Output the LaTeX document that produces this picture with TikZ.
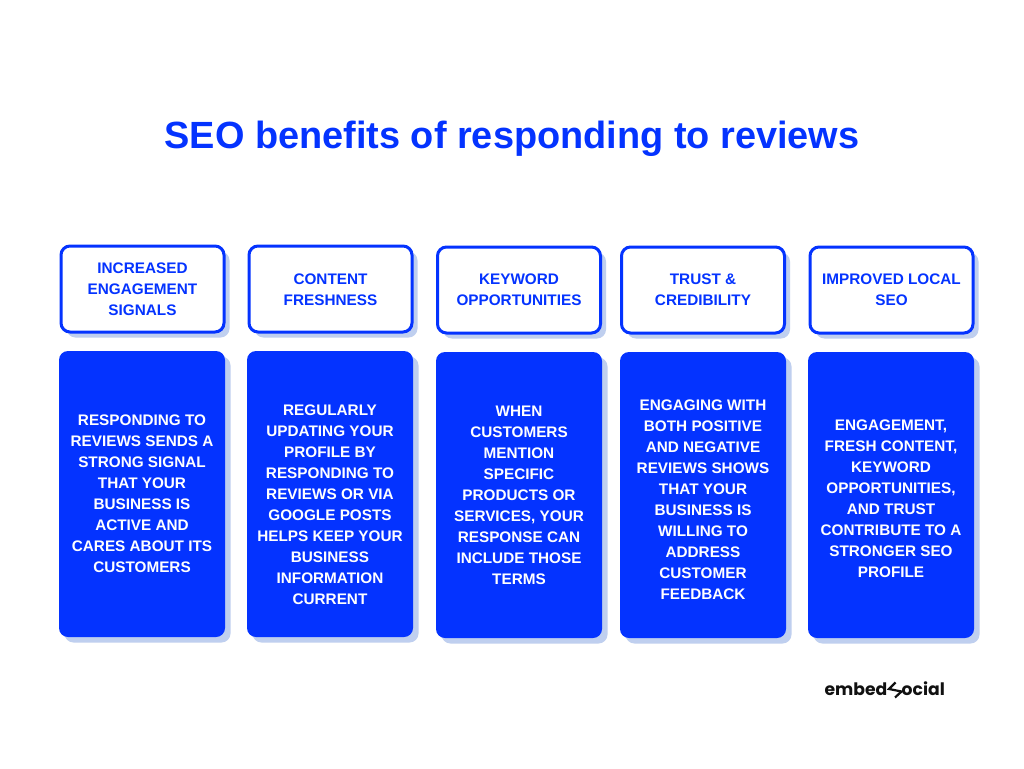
\documentclass[tikz,border=0pt]{standalone}
\usepackage{fontspec}
\setmainfont{Liberation Sans}
\newfontfamily\logofont{Poppins}
\usetikzlibrary{shadows}
\definecolor{brand}{HTML}{0433FF}
\definecolor{shade}{HTML}{BFCFEF}
\definecolor{logoink}{HTML}{111111}
\tikzset{
  x=1pt,y=-1pt,
  card/.style={rounded corners=9pt,align=center,inner sep=0pt,font=\fontsize{15.3}{21}\selectfont\bfseries,
    general shadow={fill=shade,shadow xshift=5.5pt,shadow yshift=-5.5pt}},
  headbox/.style={card,draw=brand,line width=3pt,fill=white,text=brand,minimum width=163pt,minimum height=86pt},
  bodybox/.style={card,fill=brand,minimum width=166pt,minimum height=286pt},
  bodytext/.style={text=white,align=center,inner sep=0pt,font=\fontsize{15.3}{21}\selectfont\bfseries},
  titletext/.style={text=brand,font=\fontsize{37.9}{44}\selectfont\bfseries,inner sep=0pt},
  logotext/.style={text=logoink,font=\logofont\fontsize{17.2}{20}\selectfont\bfseries,inner sep=0pt}
}
\begin{document}
\begin{tikzpicture}
\useasboundingbox (0,0) rectangle (1024,768);
\fill[white] (0,0) rectangle (1024,768);
\node[titletext] (title) at (512,138.5) {SEO benefits of responding to reviews};

\node[headbox] (h1) at (142.5,289) {INCREASED\\ENGAGEMENT\\SIGNALS};
\node[headbox] (h2) at (330.5,289) {\rule{0pt}{13pt}CONTENT\\FRESHNESS};
\node[headbox] (h3) at (519,290) {KEYWORD\\OPPORTUNITIES};
\node[headbox] (h4) at (703,290) {TRUST \&\\CREDIBILITY};
\node[headbox] (h5) at (891.5,290) {IMPROVED LOCAL\\SEO};

\node[bodybox,label={[bodytext]center:RESPONDING TO\\REVIEWS SENDS A\\STRONG SIGNAL\\THAT YOUR\\BUSINESS IS\\ACTIVE AND\\CARES ABOUT ITS\\CUSTOMERS}] (b1) at (142,494) {};
\node[bodybox,label={[bodytext,yshift=-11pt]center:REGULARLY\\UPDATING YOUR\\PROFILE BY\\RESPONDING TO\\REVIEWS OR VIA\\GOOGLE POSTS\\HELPS KEEP YOUR\\BUSINESS\\INFORMATION\\CURRENT}] (b2) at (330,494) {};
\node[bodybox,label={[bodytext]center:WHEN\\CUSTOMERS\\MENTION\\SPECIFIC\\PRODUCTS OR\\{SERVICES, YOUR}\\RESPONSE CAN\\INCLUDE THOSE\\TERMS}] (b3) at (519,495) {};
\node[bodybox,label={[bodytext,yshift=-5pt]center:ENGAGING WITH\\BOTH POSITIVE\\AND NEGATIVE\\REVIEWS SHOWS\\THAT YOUR\\BUSINESS IS\\WILLING TO\\ADDRESS\\CUSTOMER\\FEEDBACK}] (b4) at (703,495) {};
\node[bodybox,label={[bodytext,yshift=-4pt]center:{ENGAGEMENT,}\\{FRESH CONTENT,}\\KEYWORD\\{OPPORTUNITIES,}\\AND TRUST\\CONTRIBUTE TO A\\STRONGER SEO\\PROFILE}] (b5) at (891,495) {};

\node[logotext,anchor=base east] (l1) at (887.5,695) {embed};
\node[logotext,anchor=base west] (l2) at (901.5,695) {ocial};
\draw[logoink,line width=2.2pt] (895.5,682.5) -- (889,689) -- (901.5,691.5) -- (895,697.5);
\end{tikzpicture}
\end{document}
